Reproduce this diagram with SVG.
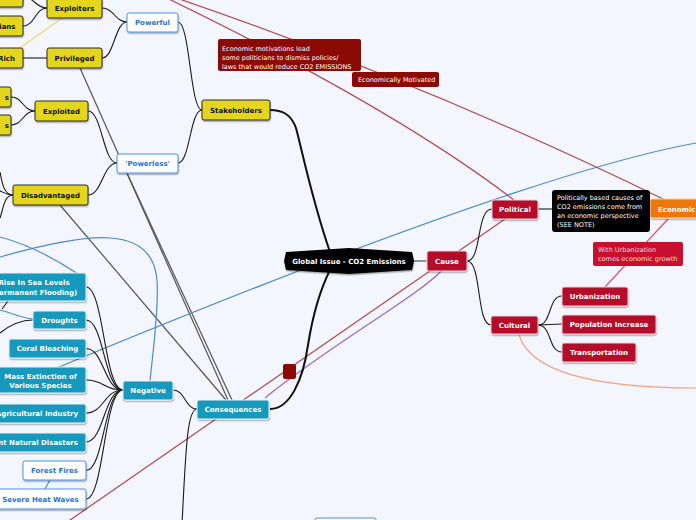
<svg xmlns="http://www.w3.org/2000/svg" width="696" height="520" viewBox="0 0 696 520">
<defs>
<filter id="sh" x="-10%" y="-20%" width="130%" height="160%"><feDropShadow dx="0.5" dy="1.5" stdDeviation="0.6" flood-color="#000" flood-opacity="0.3"/></filter>
<style>
.t{font-family:"DejaVu Sans","Liberation Sans",sans-serif;font-size:7px;font-weight:bold;text-anchor:middle}
.n{font-family:"DejaVu Sans","Liberation Sans",sans-serif;font-size:6.5px}
.y rect{fill:#e3d61b;stroke:#2a2a2a;stroke-width:1}
.y text{fill:#111}
.w rect{fill:#fff;stroke:#4a90e2;stroke-width:1}
.w text{fill:#1e74e0}
.c rect{fill:#1799bd;stroke:#e6f3f7;stroke-width:1}
.c text{fill:#fff}
.r rect{fill:#b30c2c;stroke:#f0d0d6;stroke-width:1}
.r text{fill:#fff}
.k{fill:none;stroke:#1a1a1a;stroke-width:1.1}
.kk{fill:none;stroke:#111;stroke-width:2}
.g{fill:none;stroke:#555;stroke-width:1.2}
.rel{fill:none;stroke-width:1.2}
</style>
</defs>
<rect width="696" height="520" fill="#f3f6fe"/>
<g id="connectors">
<!-- relationship lines -->
<path class="rel" stroke="#f5d56a" d="M62,18 L20,48"/>
<path class="g" d="M80,68 L228,400"/>
<path class="g" d="M127,173 L232,400"/>
<path class="g" d="M60,205 L226,400"/>
<path class="rel" stroke="#4a8bd0" d="M0,237 C30,245 60,262 78,274"/>
<path class="rel" stroke="#4a8bd0" d="M0,257 C50,243 85,236 110,238 C140,240 155,255 157,280 C159,310 153,350 150,381"/>
<path class="rel" stroke="#4a8bd0" d="M696,143 Q520,175 40,375"/>
<path class="rel" stroke="#4a8bd0" d="M0,310 C12,313 22,318 33,319"/>
<path class="rel" stroke="#4a8bd0" d="M50,480 L45,489"/>
<path class="rel" stroke="#b5484a" d="M150,-11 Q420,80 665,200"/>
<path class="rel" stroke="#b5484a" d="M150,-10 Q390,105 514,200"/>
<path class="rel" stroke="#b5484a" d="M505,219 L60,527"/>
<path class="rel" stroke="#d9506a" d="M668,219 L605,287"/>
<path class="rel" stroke="#9a66c8" d="M442,270 C420,295 330,345 265,398"/>
<path class="rel" stroke="#f4a07a" d="M519,335 C530,370 590,388 696,388"/>
<!-- tree branches -->
<path class="kk" d="M330,252 C312,200 302,150 296,128 C291,114 282,110 270,110"/>
<path class="kk" d="M330,270 C320,290 312,320 308,345 C303,380 290,409 270,409"/>
<path d="M414,261 L427,261" stroke="#555" stroke-width="1.2"/>
<path class="k" d="M467,261 C482,261 476,209 492,209"/>
<path class="k" d="M467,261 C482,261 476,325 491,325"/>
<path class="k" d="M538,325 C552,325 548,296 562,296"/>
<path class="k" d="M538,325 L562,324"/>
<path class="k" d="M538,325 C552,325 548,352 562,352"/>
<path class="k" d="M538,209 L552,209"/>
<path class="k" d="M202,110 C190,110 190,22 178,22"/>
<path class="k" d="M202,110 C190,110 190,163 178,163"/>
<path class="k" d="M127,22 C115,22 114,8 102,8"/>
<path class="k" d="M127,22 C115,22 114,58 102,58"/>
<path class="k" d="M47,8 C35,8 35,-3 23,-3"/>
<path class="k" d="M47,8 C35,8 35,26 23,26"/>
<path class="k" d="M47,58 L23,58"/>
<path class="k" d="M117,163 C103,163 102,111 88,111"/>
<path class="k" d="M117,163 C103,163 102,195 88,195"/>
<path class="k" d="M35,111 C23,111 23,97 11,97"/>
<path class="k" d="M35,111 C23,111 23,125 11,125"/>
<path class="k" d="M13,195 C4,195 2,183 0,172"/>
<path class="k" d="M13,195 C6,195 3,192 -2,190"/>
<path class="k" d="M13,195 C4,195 3,210 0,218"/>
<path class="k" d="M197,409 C185,409 185,390 173,390"/>
<path class="k" d="M197,409 C188,409 186,440 182,525"/>
<path class="k" d="M123,390 C104,390 104,287 86,287"/>
<path class="k" d="M123,390 C104,390 104,320 86,320"/>
<path class="k" d="M123,390 C104,390 104,348.5 86,348.5"/>
<path class="k" d="M123,390 C104,390 104,380 86,380"/>
<path class="k" d="M123,390 C104,390 104,413 86,413"/>
<path class="k" d="M123,390 C104,390 104,442 86,442"/>
<path class="k" d="M123,390 C104,390 104,470.5 86,470.5"/>
<path class="k" d="M123,390 C104,390 104,499 86,499"/>
<path class="k" d="M8,301 L2,309"/>
<path class="k" d="M33,320 C20,320 10,325 0,333"/>
</g>
<g id="n-topleft" class="y"><rect x="-10" y="-13" width="33" height="20" rx="2" filter="url(#sh)"/></g>
<g id="n-exploiters" class="y"><rect x="47" y="-2" width="55" height="20" rx="2" filter="url(#sh)"/><text class="t" x="74.5" y="10.5">Exploiters</text></g>
<g id="n-politicians" class="y"><rect x="-30" y="16" width="53" height="20" rx="2" filter="url(#sh)"/><text class="t" x="15.5" y="28.5" style="text-anchor:end">Politicians</text></g>
<g id="n-rich" class="y"><rect x="-20" y="48" width="43" height="20" rx="2" filter="url(#sh)"/><text class="t" x="15" y="60.5" style="text-anchor:end">Rich</text></g>
<g id="n-privileged" class="y"><rect x="47" y="48" width="55" height="20" rx="2" filter="url(#sh)"/><text class="t" x="74.5" y="60.5">Privileged</text></g>
<g id="n-exploited" class="y"><rect x="35" y="101" width="53" height="20" rx="2" filter="url(#sh)"/><text class="t" x="61.5" y="113.5">Exploited</text></g>
<g id="n-small1" class="y"><rect x="-30" y="87" width="41" height="20" rx="2" filter="url(#sh)"/><text class="t" x="9" y="99.5" style="text-anchor:end">s</text></g>
<g id="n-small2" class="y"><rect x="-30" y="115" width="41" height="20" rx="2" filter="url(#sh)"/><text class="t" x="9" y="127.5" style="text-anchor:end">s</text></g>
<g id="n-disadvantaged" class="y"><rect x="13" y="185" width="75" height="20" rx="2" filter="url(#sh)"/><text class="t" x="50.5" y="197.5">Disadvantaged</text></g>
<g id="n-stakeholders" class="y"><rect x="202" y="100" width="68" height="20" rx="2" filter="url(#sh)"/><text class="t" x="236" y="112.5">Stakeholders</text></g>
<g id="n-powerful" class="w"><rect x="127" y="13" width="51" height="19" rx="2" filter="url(#sh)"/><text class="t" x="152.5" y="25">Powerful</text></g>
<g id="n-powerless" class="w"><rect x="117" y="154" width="61" height="19" rx="2" filter="url(#sh)"/><text class="t" x="147.5" y="166">'Powerless'</text></g>
<g id="n-forestfires" class="w"><rect x="23" y="461" width="63" height="19" rx="2" filter="url(#sh)"/><text class="t" x="54.5" y="473">Forest Fires</text></g>
<g id="n-heatwaves" class="w"><rect x="-8" y="489" width="94" height="20" rx="2" filter="url(#sh)"/><text class="t" x="40.5" y="501.5">Severe Heat Waves</text></g>
<g id="n-rise" class="c"><rect x="-15" y="273" width="101" height="28" rx="2" filter="url(#sh)"/><text class="t" x="34" y="285">Rise In Sea Levels</text><text class="t" x="34" y="294.5">(Permanent Flooding)</text></g>
<g id="n-droughts" class="c"><rect x="33" y="311" width="53" height="18" rx="2" filter="url(#sh)"/><text class="t" x="59.5" y="322.5">Droughts</text></g>
<g id="n-coral" class="c"><rect x="9" y="339" width="77" height="19" rx="2" filter="url(#sh)"/><text class="t" x="47.5" y="351">Coral Bleaching</text></g>
<g id="n-mass" class="c"><rect x="-6" y="367" width="92" height="26" rx="2" filter="url(#sh)"/><text class="t" x="40.5" y="379">Mass Extinction of</text><text class="t" x="40.5" y="388">Various Species</text></g>
<g id="n-agri" class="c"><rect x="-15" y="404" width="101" height="19" rx="2" filter="url(#sh)"/><text class="t" x="78" y="416" style="text-anchor:end">Agricultural Industry</text></g>
<g id="n-disasters" class="c"><rect x="-30" y="433" width="116" height="19" rx="2" filter="url(#sh)"/><text class="t" x="78" y="445" style="text-anchor:end">Frequent Natural Disasters</text></g>
<g id="n-negative" class="c"><rect x="123" y="381" width="50" height="19" rx="2" filter="url(#sh)"/><text class="t" x="148" y="393">Negative</text></g>
<g id="n-consequences" class="c"><rect x="197" y="400" width="72" height="19" rx="2" filter="url(#sh)"/><text class="t" x="233" y="412">Consequences</text></g>
<g id="n-global"><polygon points="286,252 349,248 412,252 414,261 412,270 349,274 286,270 284,261" fill="#000" filter="url(#sh)"/><text class="t" x="349" y="263.5" fill="#fff">Global Issue - CO2 Emissions</text></g>
<g id="n-cause" class="r"><rect x="427" y="251" width="40" height="20" rx="2" filter="url(#sh)"/><text class="t" x="447" y="263.5">Cause</text></g>
<g id="n-political" class="r"><rect x="492" y="200" width="46" height="19" rx="2" filter="url(#sh)"/><text class="t" x="515" y="212">Political</text></g>
<g id="n-cultural" class="r"><rect x="491" y="316" width="47" height="18" rx="2" filter="url(#sh)"/><text class="t" x="514.5" y="327.5">Cultural</text></g>
<g id="n-urbanization" class="r"><rect x="562" y="287" width="66" height="19" rx="2" filter="url(#sh)"/><text class="t" x="595" y="299">Urbanization</text></g>
<g id="n-population" class="r"><rect x="562" y="315" width="94" height="19" rx="2" filter="url(#sh)"/><text class="t" x="609" y="327">Population Increase</text></g>
<g id="n-transportation" class="r"><rect x="562" y="343" width="74" height="19" rx="2" filter="url(#sh)"/><text class="t" x="599" y="355">Transportation</text></g>
<g id="n-economic"><rect x="650" y="199" width="60" height="19" rx="2" fill="#ec780c" stroke="#f8d0a8" filter="url(#sh)"/><text class="t" x="658" y="211.5" fill="#fff" style="text-anchor:start">Economic</text></g>
<g id="n-note-political"><rect x="552" y="190" width="98" height="42" rx="3" fill="#000"/><text class="n" fill="#fff" x="557" y="199.5">Politically based causes of</text><text class="n" fill="#fff" x="557" y="208.5">CO2 emissions come from</text><text class="n" fill="#fff" x="557" y="217.5">an economic perspective</text><text class="n" fill="#fff" x="557" y="226.5">(SEE NOTE)</text></g>
<g id="n-note-urban"><rect x="593" y="242" width="90" height="24" rx="2" fill="#c8102e"/><text class="n" fill="#f8d8dc" x="598" y="252">With Urbanization</text><text class="n" fill="#f8d8dc" x="598" y="261">comes economic growth</text></g>
<g id="n-note-motivations"><rect x="218" y="39" width="143" height="32" rx="2" fill="#8b0a04"/><text class="n" fill="#fff" x="222" y="50.5">Economic motivations lead</text><text class="n" fill="#fff" x="222" y="59.5">some politicians to dismiss policies/</text><text class="n" fill="#fff" x="222" y="68.5">laws that would reduce CO2 EMISSIONS</text></g>
<g id="n-label-econmot"><rect x="352" y="72" width="87" height="15" rx="2" fill="#8b0a04"/><text class="n" fill="#fff" x="358" y="82">Economically Motivated</text></g>
<g id="n-label-square"><rect x="283" y="364" width="13" height="15" rx="2" fill="#8b0a04"/></g>
<g id="n-bottom" class="w"><rect x="315" y="518" width="61" height="20" rx="2"/></g>
</svg>
